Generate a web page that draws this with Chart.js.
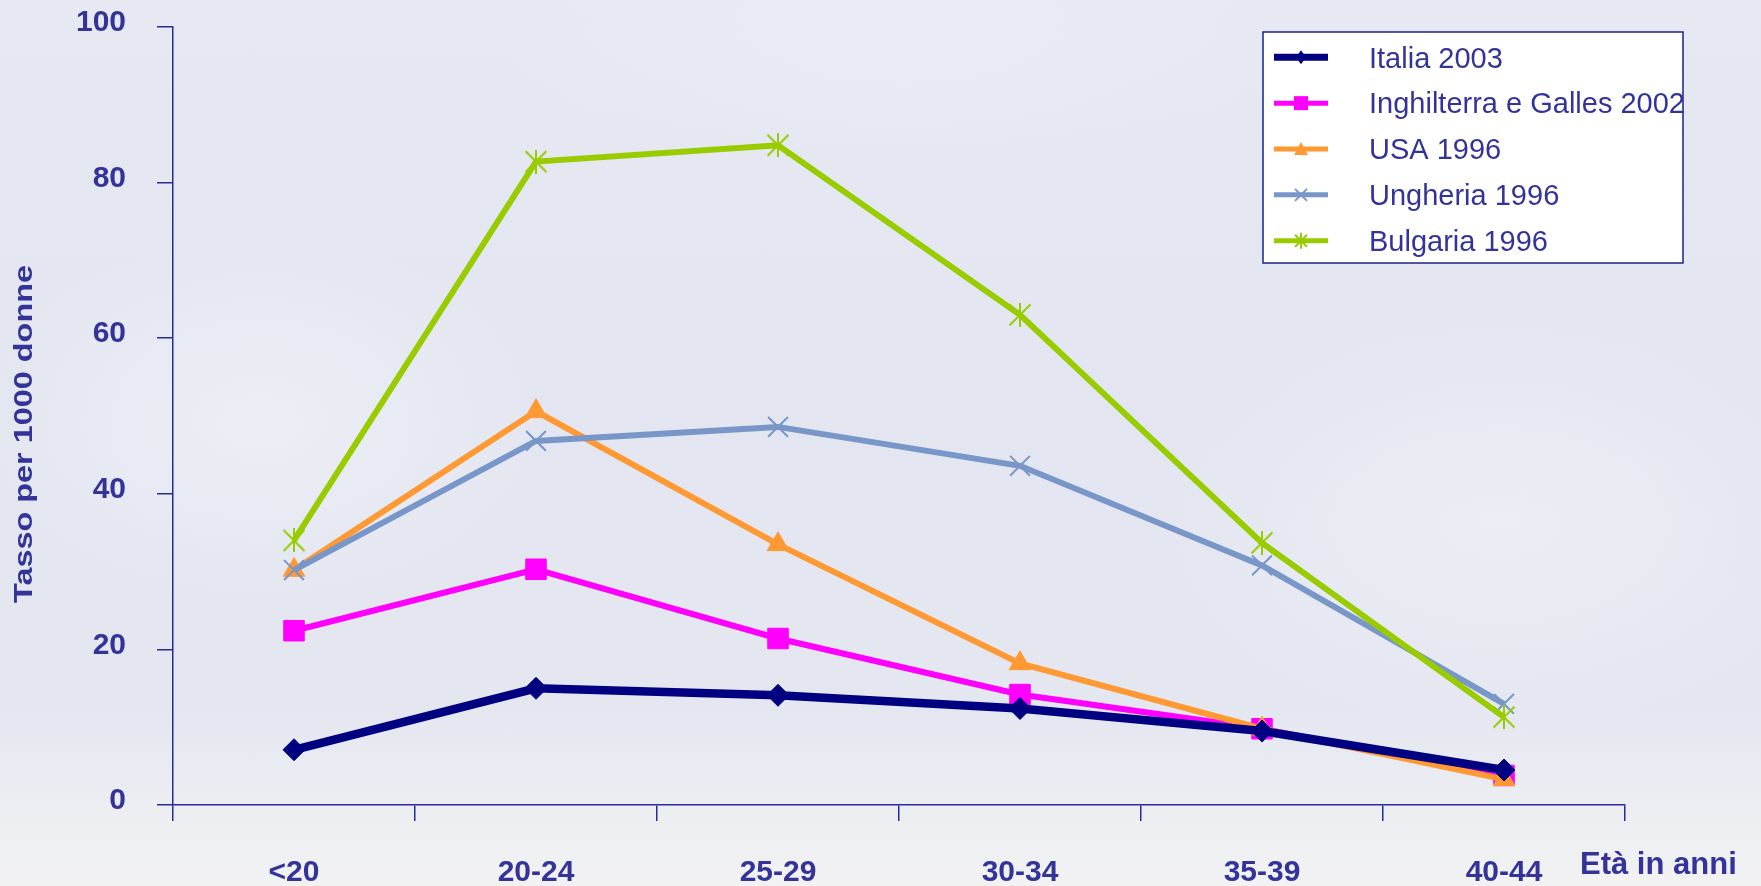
<!DOCTYPE html>
<html lang="it">
<head>
<meta charset="utf-8">
<title>Tasso per 1000 donne per età</title>
<script src="https://cdn.jsdelivr.net/npm/chart.js@4/dist/chart.umd.min.js"></script>
<style>
  html, body { margin: 0; padding: 0; }
  body {
    width: 1761px; height: 886px; overflow: hidden;
    background:
      radial-gradient(ellipse 420px 260px at 260px 420px, rgba(244,245,250,0.55), rgba(244,245,250,0) 70%),
      radial-gradient(ellipse 500px 300px at 1500px 520px, rgba(240,242,246,0.6), rgba(240,242,246,0) 70%),
      radial-gradient(ellipse 600px 200px at 900px 40px, rgba(236,238,246,0.5), rgba(236,238,246,0) 70%),
      linear-gradient(180deg, #e6e8f2 0%, #e3e6f0 45%, #e4e7f0 80%, #eceef2 92%, #f2f2f3 100%);
  }
  #wrap { position: relative; width: 1761px; height: 886px; }
  canvas { display: block; }
</style>
</head>
<body>
<div id="wrap"><canvas id="chart" width="1761" height="886"></canvas></div>
<script>
// Age classes on the x axis
const categories = ['<20', '20-24', '25-29', '30-34', '35-39', '40-44'];

// Series names
const seriesNames = ['Italia 2003', 'Inghilterra e Galles 2002', 'USA 1996', 'Ungheria 1996', 'Bulgaria 1996'];

// Rates per 1000 women, by age class
const italia2003 = [7.1, 15.0, 14.1, 12.4, 9.5, 4.5];
const inghilterraGalles2002 = [22.4, 30.3, 21.4, 14.2, 9.8, 3.8];
const usa1996 = [30.2, 50.6, 33.5, 18.2, 9.8, 3.3];
const ungheria1996 = [30.2, 46.8, 48.6, 43.6, 30.8, 13.0];
const bulgaria1996 = [34.0, 82.7, 84.8, 63.0, 33.7, 11.3];

// Value axis ticks
const yTicks = [0, 20, 40, 60, 80, 100];

// Axis titles
const yTitle = 'Tasso per 1000 donne';
const xTitle = 'Età in anni';

const TEXT = '#333399';
const AXIS = '#2a2a96';
const FONT = '"Liberation Sans", Arial, Helvetica, sans-serif';

// Asterisk marker (X with a vertical stroke)
function asteriskMark(color, size, lw) {
  const c = document.createElement('canvas');
  c.width = size; c.height = size;
  const g = c.getContext('2d');
  g.strokeStyle = color;
  g.lineWidth = lw;
  const m = 1.5;
  g.beginPath();
  g.moveTo(m, m); g.lineTo(size - m, size - m);
  g.moveTo(size - m, m); g.lineTo(m, size - m);
  g.moveTo(size / 2, 0); g.lineTo(size / 2, size);
  g.stroke();
  return c;
}

const colors = ['#000080', '#ff00ff', '#ff9933', '#7896c8', '#99cc00'];
const seriesValues = [italia2003, inghilterraGalles2002, usa1996, ungheria1996, bulgaria1996];
const starPlot = asteriskMark(colors[4], 24, 2);

const styles = [
  { pointStyle: 'rectRot', pointRadius: 11, pointBorderWidth: 1, borderWidth: 8.5, order: 0 },
  { pointStyle: 'rect', pointRadius: 14.5, pointBorderWidth: 1, borderWidth: 6, order: 4 },
  { pointStyle: 'triangle', pointRadius: 12.5, pointBorderWidth: 1, borderWidth: 6, order: 3 },
  { pointStyle: 'crossRot', pointRadius: 14, pointBorderWidth: 2, borderWidth: 6, order: 2 },
  { pointStyle: starPlot, pointRadius: 11, pointBorderWidth: 2, borderWidth: 6, order: 1 }
];

const datasets = seriesNames.map((name, i) => ({
  label: name,
  data: seriesValues[i],
  borderColor: colors[i],
  backgroundColor: colors[i],
  borderWidth: styles[i].borderWidth,
  pointStyle: styles[i].pointStyle,
  pointRadius: styles[i].pointRadius,
  pointHoverRadius: styles[i].pointRadius,
  pointBorderWidth: styles[i].pointBorderWidth,
  pointBackgroundColor: colors[i],
  pointBorderColor: colors[i],
  tension: 0,
  fill: false,
  order: styles[i].order
}));

// Small legend markers
function legendMarker(ctx, i, x, y) {
  const c = colors[i];
  ctx.fillStyle = c; ctx.strokeStyle = c;
  ctx.beginPath();
  if (i === 0) {
    ctx.moveTo(x, y - 7); ctx.lineTo(x + 5, y); ctx.lineTo(x, y + 7); ctx.lineTo(x - 5, y);
    ctx.closePath(); ctx.fill();
  } else if (i === 1) {
    ctx.rect(x - 7, y - 7, 14, 14); ctx.fill();
  } else if (i === 2) {
    ctx.moveTo(x, y - 7); ctx.lineTo(x + 7, y + 6); ctx.lineTo(x - 7, y + 6);
    ctx.closePath(); ctx.fill();
  } else if (i === 3) {
    ctx.lineWidth = 2;
    ctx.moveTo(x - 6, y - 6); ctx.lineTo(x + 6, y + 6);
    ctx.moveTo(x + 6, y - 6); ctx.lineTo(x - 6, y + 6);
    ctx.stroke();
  } else {
    ctx.lineWidth = 2;
    ctx.moveTo(x - 6, y - 6); ctx.lineTo(x + 6, y + 6);
    ctx.moveTo(x + 6, y - 6); ctx.lineTo(x - 6, y + 6);
    ctx.moveTo(x, y - 8); ctx.lineTo(x, y + 8);
    ctx.stroke();
  }
}

// Axis titles and the boxed legend
const decorPlugin = {
  id: 'decor',
  afterDraw(chart) {
    const { ctx, chartArea } = chart;
    ctx.save();

    // Vertical title, stretched along its length
    ctx.save();
    ctx.translate(chartArea.left - 148, (chartArea.top + chartArea.bottom) / 2 + 18);
    ctx.rotate(-Math.PI / 2);
    ctx.font = 'bold 26px ' + FONT;
    const w = ctx.measureText(yTitle).width;
    ctx.scale(338 / w, 1);
    ctx.fillStyle = TEXT;
    ctx.textAlign = 'center';
    ctx.textBaseline = 'middle';
    ctx.fillText(yTitle, 0, 0);
    ctx.restore();

    // Horizontal axis title, to the right of the last label
    ctx.font = 'bold 31px ' + FONT;
    ctx.fillStyle = TEXT;
    ctx.textAlign = 'left';
    ctx.textBaseline = 'alphabetic';
    ctx.fillText(xTitle, chartArea.right - 45, chartArea.bottom + 69);

    // Legend box
    const bx = chartArea.right - 362, by = chartArea.top + 5, bw = 420, bh = 231;
    ctx.fillStyle = '#ffffff';
    ctx.fillRect(bx, by, bw, bh);
    ctx.strokeStyle = '#1f1f8a';
    ctx.lineWidth = 1.5;
    ctx.strokeRect(bx, by, bw, bh);

    const rowStep = 45.85;
    chart.data.datasets.forEach((ds, i) => {
      const ry = by + 25.3 + i * rowStep;
      ctx.strokeStyle = ds.borderColor;
      ctx.lineWidth = i === 0 ? 7 : 5;
      ctx.beginPath();
      ctx.moveTo(bx + 11, ry);
      ctx.lineTo(bx + 65, ry);
      ctx.stroke();
      legendMarker(ctx, i, bx + 38, ry);
      ctx.font = '29px ' + FONT;
      ctx.fillStyle = TEXT;
      ctx.textAlign = 'left';
      ctx.textBaseline = 'alphabetic';
      ctx.fillText(ds.label, bx + 106, ry + 10.3);
    });

    ctx.restore();
  }
};

new Chart(document.getElementById('chart'), {
  type: 'line',
  data: { labels: categories, datasets },
  plugins: [decorPlugin],
  options: {
    responsive: false,
    animation: false,
    devicePixelRatio: 1,
    events: [],
    layout: { padding: { left: 0, top: 27, right: 136, bottom: 0 } },
    plugins: {
      legend: { display: false },
      tooltip: { enabled: false },
      title: { display: false }
    },
    scales: {
      x: {
        type: 'category',
        offset: true,
        afterFit(scale) {
          scale.height = 81;
          scale.paddingLeft = 0; scale.paddingRight = 0;
        },
        border: { display: true, color: AXIS, width: 1.5 },
        grid: {
          offset: true,
          drawOnChartArea: false,
          drawTicks: true,
          tickLength: 16,
          color: AXIS,
          lineWidth: 1.5
        },
        ticks: {
          color: TEXT,
          font: { family: FONT, size: 30, weight: 'bold' },
          padding: 34,
          maxRotation: 0,
          autoSkip: false
        }
      },
      y: {
        min: yTicks[0],
        max: yTicks[yTicks.length - 1],
        afterFit(scale) {
          scale.width = 173;
          scale.paddingTop = 0; scale.paddingBottom = 0;
        },
        border: { display: true, color: AXIS, width: 1.5 },
        grid: {
          drawOnChartArea: false,
          drawTicks: true,
          tickLength: 16,
          color: AXIS,
          lineWidth: 1.5
        },
        ticks: {
          stepSize: yTicks[1] - yTicks[0],
          color: TEXT,
          font: { family: FONT, size: 30, weight: 'bold' },
          padding: 31,
          labelOffset: -4
        }
      }
    }
  }
});
</script>
</body>
</html>
